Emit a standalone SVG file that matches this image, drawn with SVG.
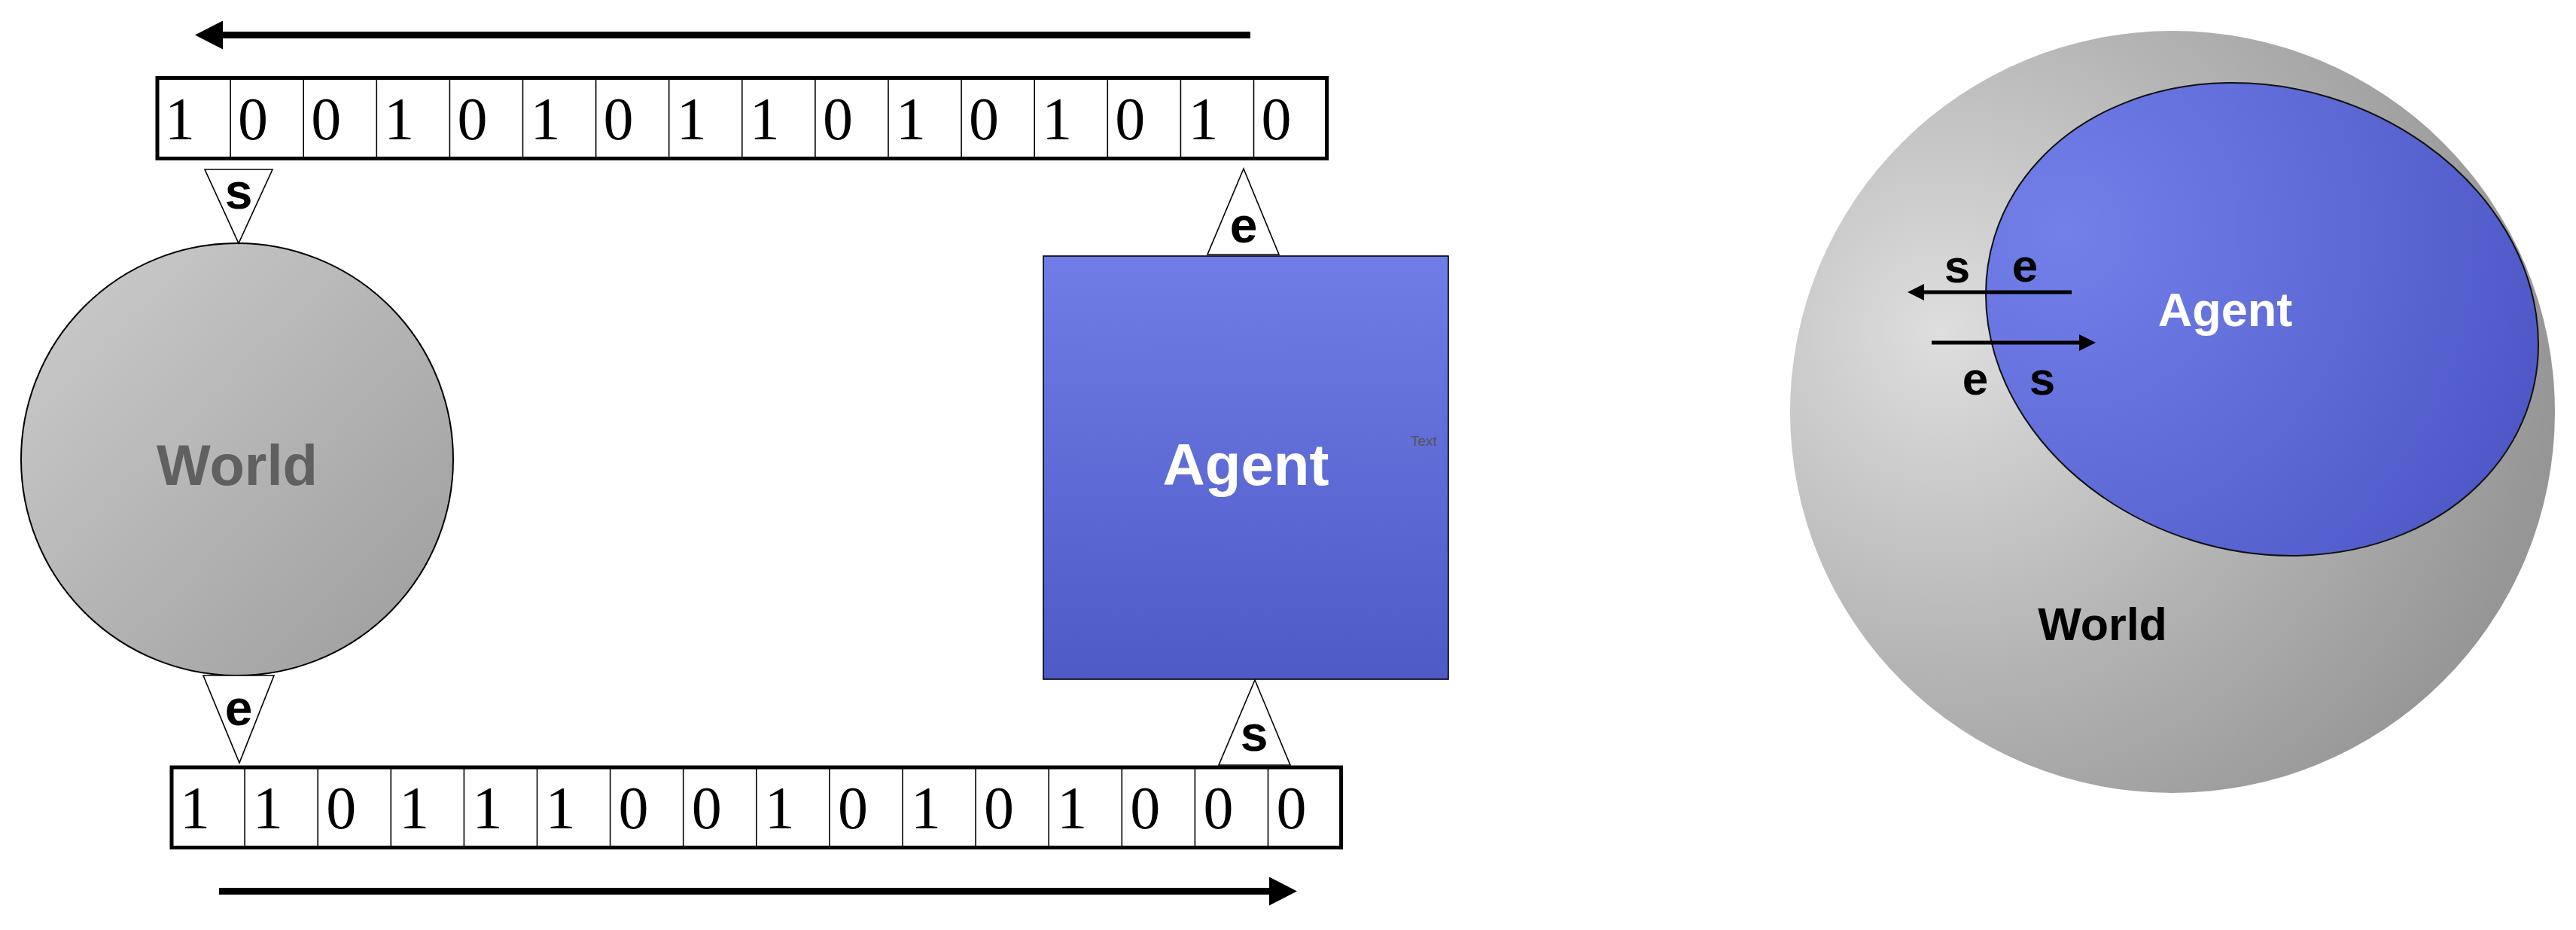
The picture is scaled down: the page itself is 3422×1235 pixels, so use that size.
<svg xmlns="http://www.w3.org/2000/svg" width="3422" height="1235" viewBox="0 0 3422 1235">
<style>
.tape{fill:#fff;stroke:#000;stroke-width:5}
.div{stroke:#000;stroke-width:1.6}
.digit{font-family:"Liberation Serif","Times New Roman",serif;font-size:80px;fill:#000;text-anchor:middle}
.port{fill:#fff;stroke:#000;stroke-width:1.6;stroke-linejoin:miter}
.plabel{font-family:"Liberation Sans",Arial,sans-serif;font-weight:bold;font-size:66px;fill:#000;text-anchor:middle}
.big{font-family:"Liberation Sans",Arial,sans-serif;font-weight:bold;text-anchor:middle}
.conn{stroke:#000;stroke-width:9;fill:none}
.conn2{stroke:#000;stroke-width:5;fill:none}
</style>
<defs>
<linearGradient id="gWorld" x1="0" y1="0" x2="1" y2="1">
<stop offset="0" stop-color="#cdcdcd"/>
<stop offset="1" stop-color="#9c9c9c"/>
</linearGradient>
<linearGradient id="gAgent" x1="0" y1="0" x2="0" y2="1">
<stop offset="0" stop-color="#707de6"/>
<stop offset="1" stop-color="#4e5ac6"/>
</linearGradient>
<radialGradient id="gWorld2" gradientUnits="userSpaceOnUse" cx="2580" cy="440" r="820">
<stop offset="0" stop-color="#dedede"/>
<stop offset="0.55" stop-color="#b4b4b4"/>
<stop offset="1" stop-color="#969696"/>
</radialGradient>
<radialGradient id="gAgent2" gradientUnits="userSpaceOnUse" cx="2720" cy="390" r="720">
<stop offset="0" stop-color="#7380ea"/>
<stop offset="1" stop-color="#4a55c3"/>
</radialGradient>
<marker id="headBig" markerUnits="userSpaceOnUse" markerWidth="38" markerHeight="38" viewBox="0 0 37 38" refX="0" refY="19" orient="auto">
<path d="M0,0 L37,19 L0,38 z" fill="#000"/>
</marker>
<marker id="headSmall" markerUnits="userSpaceOnUse" markerWidth="22" markerHeight="22" viewBox="0 0 21 21" refX="0" refY="10.5" orient="auto">
<path d="M0,0 L21,10.5 L0,21 z" fill="#000"/>
</marker>
</defs>
<rect width="3422" height="1235" fill="#fff"/>

<g id="connectors">
<line class="conn" x1="1661" y1="46.5" x2="296" y2="46.5" marker-end="url(#headBig)"/>
<line class="conn" x1="291" y1="1183.5" x2="1686" y2="1183.5" marker-end="url(#headBig)"/>
</g>

<g id="tape-top">
<rect class="tape" x="209" y="103.5" width="1553.6" height="107"/>
<g class="div">
<line x1="306.1" y1="103.5" x2="306.1" y2="210.5"/><line x1="403.2" y1="103.5" x2="403.2" y2="210.5"/>
<line x1="500.3" y1="103.5" x2="500.3" y2="210.5"/><line x1="597.4" y1="103.5" x2="597.4" y2="210.5"/>
<line x1="694.5" y1="103.5" x2="694.5" y2="210.5"/><line x1="791.6" y1="103.5" x2="791.6" y2="210.5"/>
<line x1="888.7" y1="103.5" x2="888.7" y2="210.5"/><line x1="985.8" y1="103.5" x2="985.8" y2="210.5"/>
<line x1="1082.9" y1="103.5" x2="1082.9" y2="210.5"/><line x1="1180" y1="103.5" x2="1180" y2="210.5"/>
<line x1="1277.1" y1="103.5" x2="1277.1" y2="210.5"/><line x1="1374.2" y1="103.5" x2="1374.2" y2="210.5"/>
<line x1="1471.3" y1="103.5" x2="1471.3" y2="210.5"/><line x1="1568.4" y1="103.5" x2="1568.4" y2="210.5"/>
<line x1="1665.5" y1="103.5" x2="1665.5" y2="210.5"/>
</g>
<g class="digit">
<text x="239" y="185">1</text><text x="336.1" y="185">0</text><text x="433.2" y="185">0</text><text x="530.3" y="185">1</text>
<text x="627.4" y="185">0</text><text x="724.5" y="185">1</text><text x="821.6" y="185">0</text><text x="918.7" y="185">1</text>
<text x="1015.8" y="185">1</text><text x="1112.9" y="185">0</text><text x="1210" y="185">1</text><text x="1307.1" y="185">0</text>
<text x="1404.2" y="185">1</text><text x="1501.3" y="185">0</text><text x="1598.4" y="185">1</text><text x="1695.5" y="185">0</text>
</g>
</g>

<g id="tape-bottom">
<rect class="tape" x="228" y="1019" width="1553.6" height="106.5"/>
<g class="div">
<line x1="325.1" y1="1019" x2="325.1" y2="1125.5"/><line x1="422.2" y1="1019" x2="422.2" y2="1125.5"/>
<line x1="519.3" y1="1019" x2="519.3" y2="1125.5"/><line x1="616.4" y1="1019" x2="616.4" y2="1125.5"/>
<line x1="713.5" y1="1019" x2="713.5" y2="1125.5"/><line x1="810.6" y1="1019" x2="810.6" y2="1125.5"/>
<line x1="907.7" y1="1019" x2="907.7" y2="1125.5"/><line x1="1004.8" y1="1019" x2="1004.8" y2="1125.5"/>
<line x1="1101.9" y1="1019" x2="1101.9" y2="1125.5"/><line x1="1199" y1="1019" x2="1199" y2="1125.5"/>
<line x1="1296.1" y1="1019" x2="1296.1" y2="1125.5"/><line x1="1393.2" y1="1019" x2="1393.2" y2="1125.5"/>
<line x1="1490.3" y1="1019" x2="1490.3" y2="1125.5"/><line x1="1587.4" y1="1019" x2="1587.4" y2="1125.5"/>
<line x1="1684.5" y1="1019" x2="1684.5" y2="1125.5"/>
</g>
<g class="digit">
<text x="259" y="1100">1</text><text x="356.1" y="1100">1</text><text x="453.2" y="1100">0</text><text x="550.3" y="1100">1</text>
<text x="647.4" y="1100">1</text><text x="744.5" y="1100">1</text><text x="841.6" y="1100">0</text><text x="938.7" y="1100">0</text>
<text x="1035.8" y="1100">1</text><text x="1132.9" y="1100">0</text><text x="1230" y="1100">1</text><text x="1327.1" y="1100">0</text>
<text x="1424.2" y="1100">1</text><text x="1521.3" y="1100">0</text><text x="1618.4" y="1100">0</text><text x="1715.5" y="1100">0</text>
</g>
</g>

<g id="world-left">
<circle cx="315" cy="610" r="287" fill="url(#gWorld)" stroke="#000" stroke-width="2"/>
<text class="big" x="315" y="644" font-size="76" fill="#606060">World</text>
</g>

<g id="agent-left">
<rect x="1386" y="340" width="538" height="562" fill="url(#gAgent)" stroke="#000" stroke-width="1.6"/>
<text class="big" x="1655" y="644" font-size="78" fill="#fff">Agent</text>
<text x="1874" y="592" font-family="'Liberation Sans',Arial,sans-serif" font-size="19" fill="#555">Text</text>
</g>

<g id="port-world-s">
<polygon class="port" points="272,225 362,225 317,323"/>
<text class="plabel" x="317" y="277">s</text>
</g>
<g id="port-agent-e">
<polygon class="port" points="1652,224 1604,338 1699,338"/>
<text class="plabel" x="1652" y="322">e</text>
</g>
<g id="port-world-e">
<polygon class="port" points="270,897 364,897 318,1013"/>
<text class="plabel" x="317" y="963">e</text>
</g>
<g id="port-agent-s">
<polygon class="port" points="1667,903 1619,1016 1714,1016"/>
<text class="plabel" x="1666" y="997">s</text>
</g>

<g id="world-right">
<ellipse cx="2886" cy="547" rx="508" ry="506" fill="url(#gWorld2)"/>
<text class="big" x="2793" y="850" font-size="61" fill="#000">World</text>
</g>

<g id="agent-right">
<ellipse cx="3005" cy="424" rx="372" ry="308" transform="rotate(17 3005 424)" fill="url(#gAgent2)" stroke="#111" stroke-width="2"/>
<text class="big" x="2956" y="433" font-size="63" fill="#fff">Agent</text>
</g>

<g id="connectors-right">
<line class="conn2" x1="2752" y1="388" x2="2556" y2="388" marker-end="url(#headSmall)"/>
<line class="conn2" x1="2566" y1="455" x2="2762" y2="455" marker-end="url(#headSmall)"/>
<g class="plabel" style="font-size:62px">
<text x="2600" y="375">s</text>
<text x="2690" y="374">e</text>
<text x="2624" y="524">e</text>
<text x="2713" y="524">s</text>
</g>
</g>
</svg>
